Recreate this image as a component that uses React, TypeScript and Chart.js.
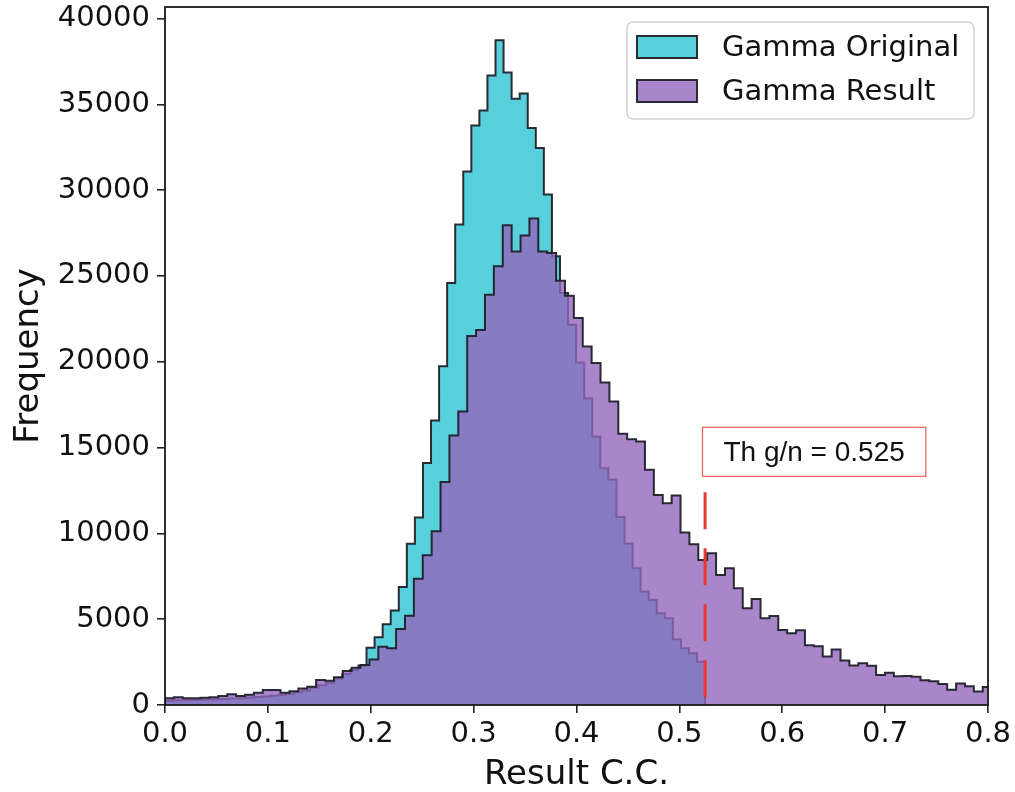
import React, { useEffect, useRef } from "react";
import { Chart, registerables } from "chart.js";

Chart.register(...registerables);

// ---------- data ----------
const seriesNames = ["Gamma Original", "Gamma Result"];
const xAxisTitle = "Result C.C.";
const yAxisTitle = "Frequency";
const xTickValues = [0, 0.1, 0.2, 0.3, 0.4, 0.5, 0.6, 0.7, 0.8];
const yTickValues = [0, 5000, 10000, 15000, 20000, 25000, 30000, 35000, 40000];
const xLimits = [0, 0.8];
const yLimits = [0, 40670];

// Gamma Original: 67 equal bins spanning [0, 0.525]
const originalRange = [0, 0.525];
const originalCounts = [
  250, 270, 280, 290, 300, 320, 330, 350, 380, 400, 430, 470, 500, 540, 580, 650,
  750, 850, 1000, 1150, 1300, 1550, 1800, 2050, 2300, 3330, 3950, 4700, 5500, 6880,
  9400, 10920, 14100, 16580, 19740, 24590, 27990, 31080, 33770, 34640, 36680, 38730,
  36850, 35330, 35630, 33620, 32460, 29740, 26140, 24000, 22160, 19960, 17880, 15640,
  13800, 13120, 10950, 9390, 7970, 6600, 6120, 5350, 5050, 3830, 3300, 3010, 2520,
];

// Gamma Result: bins of width 0.00864 starting at 0
const resultStart = 0;
const resultBinWidth = 0.00864;
const resultCounts = [
  390, 450, 390, 390, 420, 450, 530, 620, 530, 600, 720, 870, 870, 720, 800, 960,
  1070, 1460, 1420, 1620, 1980, 2170, 2330, 2650, 3400, 3300, 4430, 5200, 7350, 8730,
  10130, 13000, 15700, 17100, 21500, 21850, 23900, 25560, 27950, 26430, 27350, 28340,
  26430, 26340, 24720, 23850, 22550, 20890, 19920, 18790, 17690, 15800, 15490, 15350,
  13700, 12240, 11760, 12200, 10050, 9370, 8450, 8840, 7580, 7970, 6800, 5640, 6180,
  5050, 5190, 4370, 4180, 4350, 3480, 3420, 2820, 3230, 2600, 2300, 2430, 2280, 1750,
  1880, 1670, 1690, 1650, 1440, 1390, 1220, 890, 1250, 1090, 780, 1050,
];

const thresholdValue = 0.525;
const thresholdTop = 12400;
const thresholdLabel = "Th g/n = 0.525";
const thresholdLabelPos = [0.631, 14750];

// ---------- styles ----------
const originalFill = "rgba(23,190,207,0.72)";
const resultFill = "rgba(148,103,189,0.8)";
const edgeColor = "rgba(28,28,38,0.92)";
const thresholdColor = "rgb(232,55,45)";

function stepPoints(start: number, width: number, counts: number[]) {
  const pts: { x: number; y: number }[] = [{ x: start, y: 0 }];
  counts.forEach((c, i) => pts.push({ x: start + i * width, y: c }));
  pts.push({ x: start + counts.length * width, y: 0 });
  return pts;
}

const overlayPlugin = {
  id: "overlay",
  afterDraw(chart: any) {
    const { ctx, chartArea, scales } = chart;
    const { left, right, top, bottom } = chartArea;
    ctx.save();

    // spines
    ctx.strokeStyle = "#1a1a1a";
    ctx.lineWidth = 1.8;
    ctx.strokeRect(left, top, right - left, bottom - top);

    // threshold label box
    const cx = scales.x.getPixelForValue(thresholdLabelPos[0]);
    const cy = scales.y.getPixelForValue(thresholdLabelPos[1]);
    ctx.font = "28px 'Liberation Sans', Arial, sans-serif";
    const tw = ctx.measureText(thresholdLabel).width;
    const bw = tw + 42;
    const bh = 49;
    ctx.fillStyle = "#ffffff";
    ctx.fillRect(cx - bw / 2, cy - bh / 2, bw, bh);
    ctx.strokeStyle = "rgba(232,90,80,0.9)";
    ctx.lineWidth = 1.3;
    ctx.strokeRect(cx - bw / 2, cy - bh / 2, bw, bh);
    ctx.fillStyle = "#111";
    ctx.textAlign = "center";
    ctx.textBaseline = "middle";
    ctx.fillText(thresholdLabel, cx, cy + 1);

    // legend
    const lw = 347;
    const lh = 97;
    const lx = right - 14 - lw;
    const ly = top + 15;
    ctx.beginPath();
    if ((ctx as any).roundRect) (ctx as any).roundRect(lx, ly, lw, lh, 6);
    else ctx.rect(lx, ly, lw, lh);
    ctx.fillStyle = "rgba(255,255,255,0.85)";
    ctx.fill();
    ctx.strokeStyle = "rgba(210,210,210,1)";
    ctx.lineWidth = 1.5;
    ctx.stroke();
    const fills = [originalFill, resultFill];
    ctx.font = "29px 'DejaVu Sans', sans-serif";
    ctx.textAlign = "left";
    ctx.textBaseline = "middle";
    seriesNames.forEach((name, i) => {
      const rowY = ly + 25 + i * 44;
      ctx.fillStyle = "#fff";
      ctx.fillRect(lx + 10, rowY - 11, 60, 22);
      ctx.fillStyle = fills[i];
      ctx.fillRect(lx + 10, rowY - 11, 60, 22);
      ctx.strokeStyle = edgeColor;
      ctx.lineWidth = 2;
      ctx.strokeRect(lx + 10, rowY - 11, 60, 22);
      ctx.fillStyle = "#111";
      ctx.fillText(name, lx + 95, rowY + 1);
    });
    ctx.restore();
  },
};

export default function App() {
  const canvasRef = useRef<HTMLCanvasElement | null>(null);

  useEffect(() => {
    document.body.style.margin = "0";
    const canvas = canvasRef.current;
    if (!canvas) return;
    const tickFont = { family: "'DejaVu Sans', sans-serif", size: 29 };
    const titleFont = { family: "'DejaVu Sans', sans-serif", size: 34, lineHeight: 1.0 };
    const chart = new Chart(canvas, {
      type: "line",
      data: {
        datasets: [
          {
            label: seriesNames[0],
            data: stepPoints(
              originalRange[0],
              (originalRange[1] - originalRange[0]) / originalCounts.length,
              originalCounts
            ),
            stepped: "before",
            fill: "origin",
            backgroundColor: originalFill,
            borderColor: edgeColor,
            borderWidth: 2,
            pointRadius: 0,
            order: 3,
          } as any,
          {
            label: seriesNames[1],
            data: stepPoints(resultStart, resultBinWidth, resultCounts),
            stepped: "before",
            fill: "origin",
            backgroundColor: resultFill,
            borderColor: edgeColor,
            borderWidth: 2,
            pointRadius: 0,
            order: 2,
          } as any,
          {
            label: "threshold",
            data: [
              { x: thresholdValue, y: thresholdTop },
              { x: thresholdValue, y: 0 },
            ],
            borderColor: thresholdColor,
            borderWidth: 3,
            borderDash: [37, 19],
            fill: false,
            pointRadius: 0,
            order: 1,
          } as any,
        ],
      },
      options: {
        responsive: false,
        animation: false,
        events: [],
        layout: { padding: { top: 7, right: 27, left: 0, bottom: 0 } },
        plugins: {
          legend: { display: false },
          tooltip: { enabled: false },
        },
        scales: {
          x: {
            type: "linear",
            min: xLimits[0],
            max: xLimits[1],
            afterBuildTicks: (s: any) => {
              s.ticks = xTickValues.map((v) => ({ value: v }));
            },
            afterFit: (s: any) => {
              s.height = 87;
              s.paddingLeft = 0;
              s.paddingRight = 0;
            },
            grid: {
              drawOnChartArea: false,
              drawTicks: true,
              tickLength: 8,
              color: "#222",
              lineWidth: 1.6,
            },
            border: { display: false },
            ticks: {
              font: tickFont,
              color: "#111",
              padding: 4,
              maxRotation: 0,
              autoSkip: false,
              callback: (v: any) => Number(v).toFixed(1),
            },
            title: {
              display: true,
              text: xAxisTitle,
              font: titleFont,
              color: "#111",
              padding: { top: 0, bottom: 0 },
            },
          },
          y: {
            type: "linear",
            min: yLimits[0],
            max: yLimits[1],
            afterBuildTicks: (s: any) => {
              s.ticks = yTickValues.map((v) => ({ value: v }));
            },
            afterFit: (s: any) => {
              s.width = 165;
              s.paddingTop = 0;
              s.paddingBottom = 0;
            },
            grid: {
              drawOnChartArea: false,
              drawTicks: true,
              tickLength: 8,
              color: "#222",
              lineWidth: 1.6,
            },
            border: { display: false },
            ticks: {
              font: tickFont,
              color: "#111",
              padding: 7,
              autoSkip: false,
              callback: (v: any) => String(v),
            },
            title: {
              display: true,
              text: yAxisTitle,
              font: titleFont,
              color: "#111",
              padding: { top: 12, bottom: 0 },
            },
          },
        },
      },
      plugins: [overlayPlugin],
    } as any);
    return () => chart.destroy();
  }, []);

  return (
    <div style={{ position: "fixed", left: 0, top: 0, width: 1015, height: 792, background: "#fff" }}>
      <canvas ref={canvasRef} width={1015} height={792} style={{ display: "block", width: 1015, height: 792 }} />
    </div>
  );
}
